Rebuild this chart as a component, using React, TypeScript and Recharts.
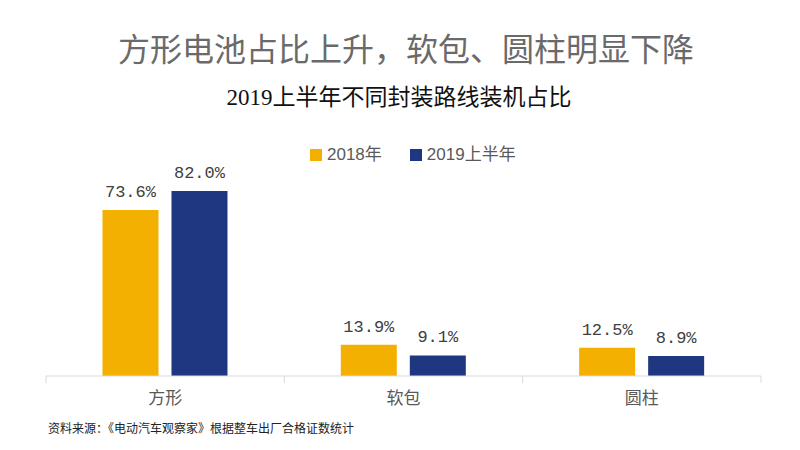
import React from 'react';
import { BarChart, Bar, XAxis, YAxis, LabelList } from 'recharts';

const categories = ['方形', '软包', '圆柱'];
const share2018 = [73.6, 13.9, 12.5];
const shareH1_2019 = [82.0, 9.1, 8.9];
const seriesNames = ['2018年', '2019上半年'];
const seriesColors = ['#F4B000', '#1F3781'];

const data = categories.map((name, i) => ({
  name,
  y2018: share2018[i],
  y2019: shareH1_2019[i],
}));

const cjk = '"Noto Sans CJK SC", "Noto Sans", sans-serif';
const fmt = (v: number) => `${v.toFixed(1)}%`;

const CategoryTick = (props: any) => {
  const { x, y, payload, index, visibleTicksCount } = props;
  const half = payload?.offset ?? 0;
  const last = index === visibleTicksCount - 1;
  return (
    <g>
      <line x1={x - half} y1={y - 8} x2={x - half} y2={y - 1} stroke='#d9d9d9' />
      {last && <line x1={x + half} y1={y - 8} x2={x + half} y2={y - 1} stroke='#d9d9d9' />}
      <text x={x} y={y + 20} textAnchor='middle' fill='#595959' fontSize={17} fontFamily={cjk}>
        {payload.value}
      </text>
    </g>
  );
};

export default function App() {
  return (
    <div style={{ position: 'absolute', left: 0, top: 0, width: 800, height: 450, background: '#fff' }}>
      <div style={{ position: 'absolute', left: 0, width: 812, top: 27, textAlign: 'center', fontFamily: cjk, fontSize: 32, color: '#6a6a6a', lineHeight: '40px' }}>
        方形电池占比上升，软包、圆柱明显下降
      </div>
      <div style={{ position: 'absolute', left: 0, width: 798, top: 84, textAlign: 'center', fontFamily: `"Liberation Serif", ${cjk}`, fontSize: 23, color: '#111', lineHeight: '28px' }}>
        2019上半年不同封装路线装机占比
      </div>
      <div style={{ position: 'absolute', left: 310, top: 143, display: 'flex', alignItems: 'center', fontFamily: `"Liberation Sans", ${cjk}`, fontSize: 17, color: '#595959', lineHeight: '24px' }}>
        {seriesNames.map((n, i) => (
          <span key={n} style={{ display: 'flex', alignItems: 'center', marginRight: 28 }}>
            <span style={{ width: 12, height: 12, background: seriesColors[i], marginRight: 5 }} />
            {n}
          </span>
        ))}
      </div>
      <BarChart
        width={800}
        height={450}
        data={data}
        margin={{ top: 173, right: 39, bottom: 44, left: 46 }}
        barCategoryGap='23.7%'
        barGap={13}
      >
        <XAxis
          dataKey='name'
          height={30}
          axisLine={{ stroke: '#d9d9d9' }}
          tickLine={false}
          tick={<CategoryTick />}
          interval={0}
        />
        <YAxis hide domain={[0, 90]} />
        <Bar dataKey='y2018' name={seriesNames[0]} fill={seriesColors[0]} isAnimationActive={false}>
          <LabelList dataKey='y2018' position='top' offset={13} formatter={fmt} fill='#404040' fontSize={17} fontFamily='"Liberation Mono", monospace' />
        </Bar>
        <Bar dataKey='y2019' name={seriesNames[1]} fill={seriesColors[1]} isAnimationActive={false}>
          <LabelList dataKey='y2019' position='top' offset={13} formatter={fmt} fill='#404040' fontSize={17} fontFamily='"Liberation Mono", monospace' />
        </Bar>
      </BarChart>
      <div style={{ position: 'absolute', left: 48, top: 420, fontFamily: cjk, fontSize: 12, color: '#222', lineHeight: '16px' }}>
        资料来源：《电动汽车观察家》根据整车出厂合格证数统计
      </div>
    </div>
  );
}
